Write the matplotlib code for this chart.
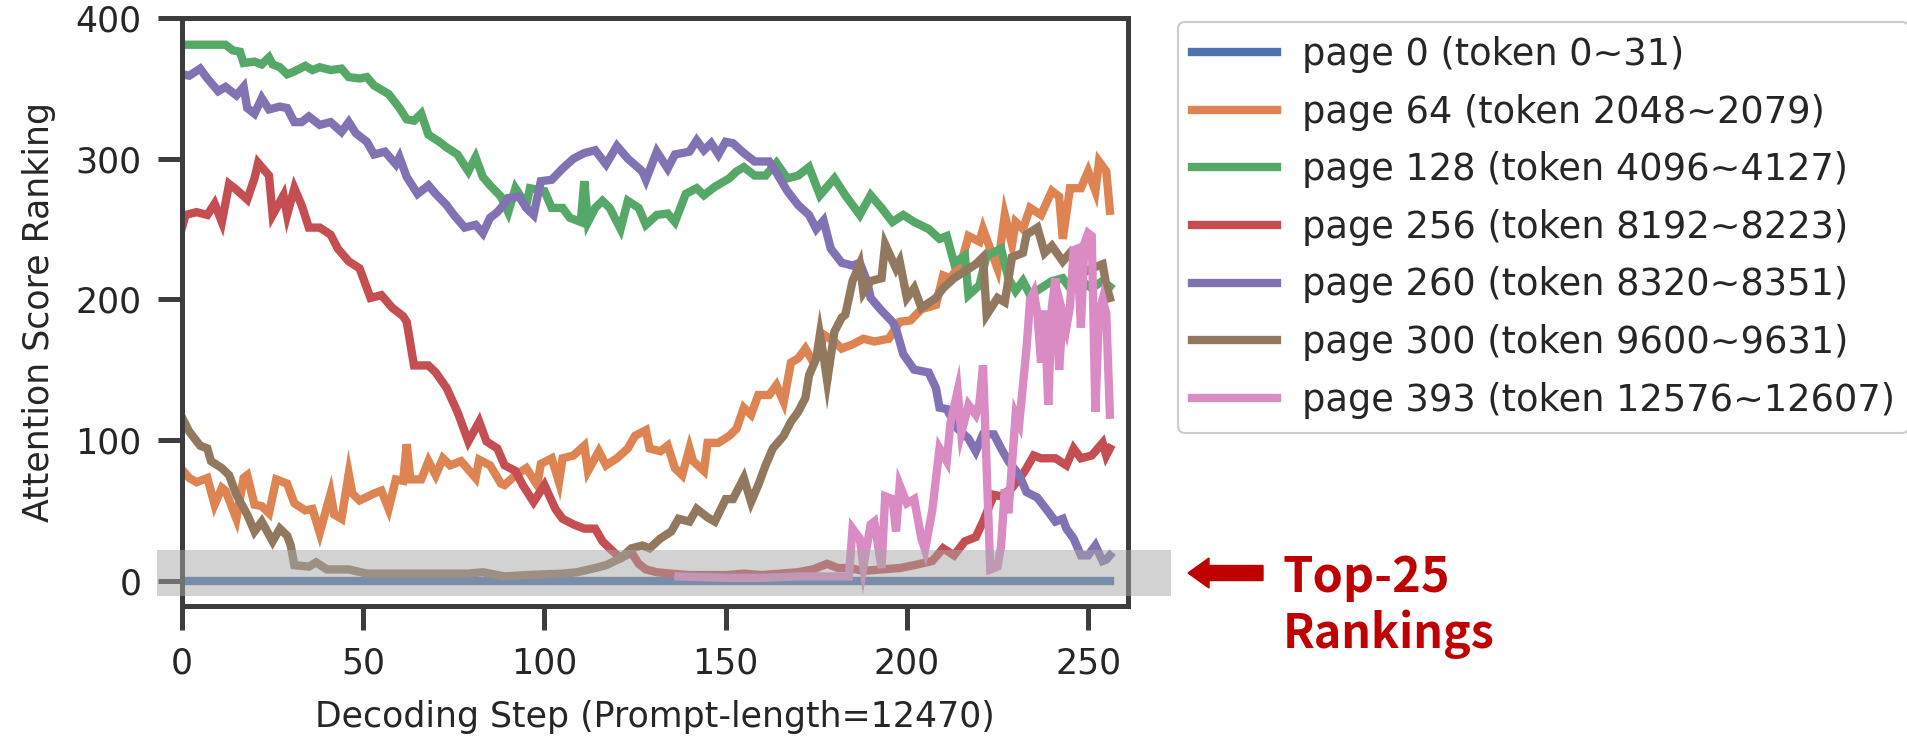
import matplotlib
matplotlib.use("Agg")
import matplotlib.pyplot as plt
from matplotlib.patches import Rectangle, FancyArrow

# ---------------- data ----------------
labels = [
    "page 0 (token 0~31)",
    "page 64 (token 2048~2079)",
    "page 128 (token 4096~4127)",
    "page 256 (token 8192~8223)",
    "page 260 (token 8320~8351)",
    "page 300 (token 9600~9631)",
    "page 393 (token 12576~12607)",
]
colors = ['#4C72B0', '#DD8452', '#55A868', '#C44E52', '#8172B3', '#937860', '#DA8BC3']

page0 = [(0, 0), (256, 0)]

page64 = [(0,79),(2,73),(4,70),(7,73),(9,54),(11,66),(12,64),(15,44),(17,73),(18,75),(20,54),(22,53),
          (24,48),(26,72),(29,69),(31,55),(34,50),(36,51),(38,34),(41,62),(42,47),(44,44),(46,76),(47,62),
          (49,57),(53,62),(55,64),(57,51),(59,72),(61,71),(62,97),(63,72),(66,72),(68,85),(70,75),(72,87),
          (74,82),(77,85),(79,79),(81,73),(82,86),(85,82),(88,69),(89,68),(92,75),(95,80),(98,68),(99,83),
          (102,87),(104,70),(105,87),(108,89),(111,96),(112,78),(115,92),(117,82),(120,87),(123,94),(125,103),
          (128,107),(129,94),(132,92),(134,96),(136,80),(138,75),(140,94),(141,85),(144,78),(145,98),(148,98),
          (151,103),(153,108),(155,123),(157,118),(159,132),(162,132),(164,139),(166,127),(168,155),(170,158),
          (172,165),(174,156),(176,163),(177,175),(180,170),(182,165),(185,168),(188,172),(191,170),(195,172),
          (198,184),(201,185),(204,193),(208,196),(210,217),(212,215),(215,226),(217,245),(220,241),(221,250),
          (223,236),(225,222),(227,260),(229,239),(230,255),(232,250),(234,265),(237,260),(240,277),(242,273),
          (243,243),(245,279),(248,279),(250,291),(252,277),(253,298),(255,291),(256,263)]

page128 = [(0,381),(12,381),(14,377),(16,376),(17,368),(20,369),(22,367),(24,372),(25,367),(27,365),(29,360),
           (31,362),(34,366),(36,363),(38,365),(41,363),(44,364),(46,358),(49,357),(51,358),(53,352),(57,346),
           (60,336),(62,328),(64,327),(66,332),(68,317),(71,312),(73,308),(76,303),(79,291),(81,301),(83,287),
           (85,281),(88,273),(90,262),(92,279),(95,267),(96,279),(100,277),(102,265),(105,265),(107,258),(110,255),
           (111,284),(112,255),(114,265),(116,270),(118,265),(121,250),(123,270),(126,265),(128,253),(131,260),
           (134,261),(136,255),(139,275),(142,279),(144,274),(147,280),(151,286),(153,291),(155,294),(158,288),
           (161,288),(164,297),(167,286),(170,288),(173,294),(176,274),(180,286),(183,274),(187,260),(190,274),
           (193,265),(196,255),(199,260),(202,255),(206,250),(209,243),(211,245),(213,226),(216,231),(217,203),
           (220,210),(222,231),(226,236),(228,215),(230,206),(232,213),(234,203),(237,208),(240,213),(243,215),
           (245,208),(247,215),(251,208),(254,213),(256,209)]

page256 = [(0,251),(1,260),(4,262),(7,260),(9,268),(11,255),(13,282),(15,278),(18,271),(20,286),(21,297),
           (24,288),(25,260),(28,274),(29,260),(31,279),(33,267),(35,251),(38,251),(41,246),(43,236),(46,227),
           (49,222),(52,201),(55,203),(58,194),(61,188),(62,184),(64,153),(68,153),(70,148),(73,137),(76,120),
           (79,99),(82,113),(84,99),(87,94),(89,82),(92,78),(94,68),(97,56),(100,68),(103,51),(105,44),(108,40),
           (111,37),(114,37),(116,28),(118,23),(121,16),(124,20),(126,12),(128,8),(131,6),(135,5),(140,4),
           (145,4),(150,4),(155,5),(160,4),(165,5),(170,6),(174,8),(178,12),(181,9),(184,9),(188,7),(193,8),
           (198,9),(202,11),(207,14),(210,23),(213,18),(216,28),(219,31),(221,42),(224,61),(226,60),(229,66),
           (232,76),(233,80),(235,89),(237,87),(241,87),(244,82),(246,94),(248,87),(251,89),(254,98),(255,89),
           (256,94)]

page260 = [(0,360),(2,359),(5,364),(7,357),(10,348),(12,351),(15,345),(17,351),(18,336),(20,332),(22,343),
           (24,335),(27,337),(29,336),(31,326),(33,326),(35,330),(38,324),(41,326),(44,319),(46,326),(48,318),
           (51,312),(53,303),(56,305),(59,296),(60,301),(62,287),(65,275),(68,281),(70,275),(73,267),(75,260),
           (78,251),(81,253),(83,247),(85,258),(87,262),(89,268),(90,272),(93,273),(95,265),(97,260),(99,284),
           (102,285),(105,293),(108,300),(111,304),(114,306),(117,296),(120,309),(123,300),(127,291),(128,285),
           (131,305),(134,293),(136,303),(140,305),(142,313),(144,306),(146,311),(148,303),(150,312),(152,311),
           (155,304),(158,298),(162,298),(164,290),(167,277),(170,267),(173,260),(175,250),(177,256),(179,236),
           (182,226),(185,224),(187,226),(189,213),(190,201),(193,192),(196,184),(197,179),(199,161),(202,150),
           (206,148),(208,137),(209,123),(211,122),(214,108),(217,101),(219,92),(221,104),(224,104),(226,94),
           (228,85),(231,75),(233,63),(236,59),(239,49),(241,42),(243,44),(244,37),(246,30),(248,18),(250,18),
           (252,25),(254,14),(255,15),(256,18)]

page300 = [(0,116),(2,106),(5,96),(7,94),(8,85),(11,80),(13,75),(15,61),(18,47),(20,35),(22,42),(25,28),
           (27,37),(29,32),(30,25),(31,11),(35,10),(37,13),(40,8),(46,8),(51,5),(58,5),(64,5),(72,5),(79,5),
           (83,6),(89,3),(95,4),(105,5),(109,6),(114,9),(117,11),(121,16),(124,23),(127,25),(129,23),(132,30),
           (135,35),(137,44),(140,42),(142,51),(145,45),(147,42),(150,58),(152,58),(155,73),(157,56),(159,68),
           (161,82),(163,94),(166,103),(168,113),(170,120),(172,130),(173,146),(175,158),(176,175),(177,160),
           (178,142),(180,177),(182,187),(183,189),(185,213),(187,225),(188,205),(190,213),(193,215),(194,239),
           (197,222),(198,227),(200,201),(202,208),(204,194),(208,201),(210,208),(213,215),(216,220),(219,225),
           (221,230),(222,189),(225,201),(227,198),(229,230),(232,233),(233,246),(236,251),(238,233),(240,238),
           (243,227),(245,233),(248,218),(251,222),(254,225),(255,210),(256,201)]

page393 = [(137,3),(150,2),(160,2),(170,3),(180,3),(184,3),(185,37),(187,30),(188,10),(190,40),(191,42),
           (193,9),(194,60),(196,58),(197,35),(198,68),(200,55),(202,58),(204,30),(205,22),(207,50),(209,94),
           (211,85),(212,112),(214,135),(215,105),(217,125),(219,118),(220,126),(221,153),(222,80),(223,8),
           (225,10),(226,25),(227,65),(228,48),(230,118),(231,112),(233,165),(234,200),(235,205),(236,190),
           (237,155),(238,192),(239,125),(240,195),(241,215),(242,150),(243,190),(244,180),(245,195),(246,235),
           (247,236),(248,180),(249,240),(250,247),(251,245),(252,120),(253,190),(254,200),(255,190),(256,118)]

series = [page0, page64, page128, page256, page260, page300, page393]

xticks = [0, 50, 100, 150, 200, 250]
yticks = [0, 100, 200, 300, 400]

# ---------------- figure ----------------
W, H = 1908, 742
fig = plt.figure(figsize=(W / 100, H / 100), dpi=100)
plt.rcParams['font.family'] = ['DejaVu Sans']
FS = 25
spine_c = '#3d3d3d'
text_c = '#262626'

ax = fig.add_axes([182 / W, 1 - 606 / H, (1128 - 182) / W, (606 - 18) / H])

for pts, lab, c in zip(series, labels, colors):
    xs = [p[0] for p in pts]
    ys = [p[1] for p in pts]
    ax.plot(xs, ys, color=c, lw=6, label=lab, solid_joinstyle='miter')

ax.set_xlim(0, 261)
ax.set_ylim(-18, 400)
ax.set_xticks(xticks)
ax.set_yticks(yticks)
for s in ax.spines.values():
    s.set_linewidth(3.6)
    s.set_color(spine_c)
ax.tick_params(axis='both', length=17, width=3.6, color=spine_c, labelsize=FS,
               labelcolor=text_c, pad=12)
ax.set_xlabel("Decoding Step (Prompt-length=12470)", fontsize=FS, color=text_c, labelpad=14)
ax.set_ylabel("Attention Score Ranking", fontsize=FS, color=text_c, labelpad=14)

# grey "Top-25" band, drawn on top of everything and beyond the axes
band = Rectangle((-6.9, -10.7), 279.9, 32.5, transform=ax.transData, clip_on=False,
                 facecolor='#a6a6a6', alpha=0.5, edgecolor='none', zorder=20)
ax.add_patch(band)

leg = ax.legend(loc='upper left', bbox_to_anchor=(1178 / W, 1 - 22 / H),
                bbox_transform=fig.transFigure, borderaxespad=0, fontsize=26.5,
                handlelength=2.3, handletextpad=0.7, labelspacing=0.56, borderpad=0.38,
                frameon=True, fancybox=True, framealpha=1, edgecolor='#cccccc')
leg.get_frame().set_linewidth(1.5)
for t in leg.get_texts():
    t.set_color(text_c)
for l in leg.get_lines():
    l.set_linewidth(6)

# red arrow + annotation
arrow = FancyArrow(12.63, (H - 573) / 100, -0.75, 0, width=0.15, head_width=0.30,
                   head_length=0.21, length_includes_head=True, color='#C00000',
                   transform=fig.dpi_scale_trans)
fig.add_artist(arrow)
fig.text(1283 / W, (H - 592) / H, "Top-25", fontsize=35, color='#C00000', weight='bold',
         family=['Noto Sans CJK SC', 'DejaVu Sans'], ha='left', va='baseline')
fig.text(1283 / W, (H - 648) / H, "Rankings", fontsize=33.5, color='#C00000', weight='bold',
         family=['Noto Sans CJK SC', 'DejaVu Sans'], ha='left', va='baseline')

fig.savefig("out.png", dpi=100)
